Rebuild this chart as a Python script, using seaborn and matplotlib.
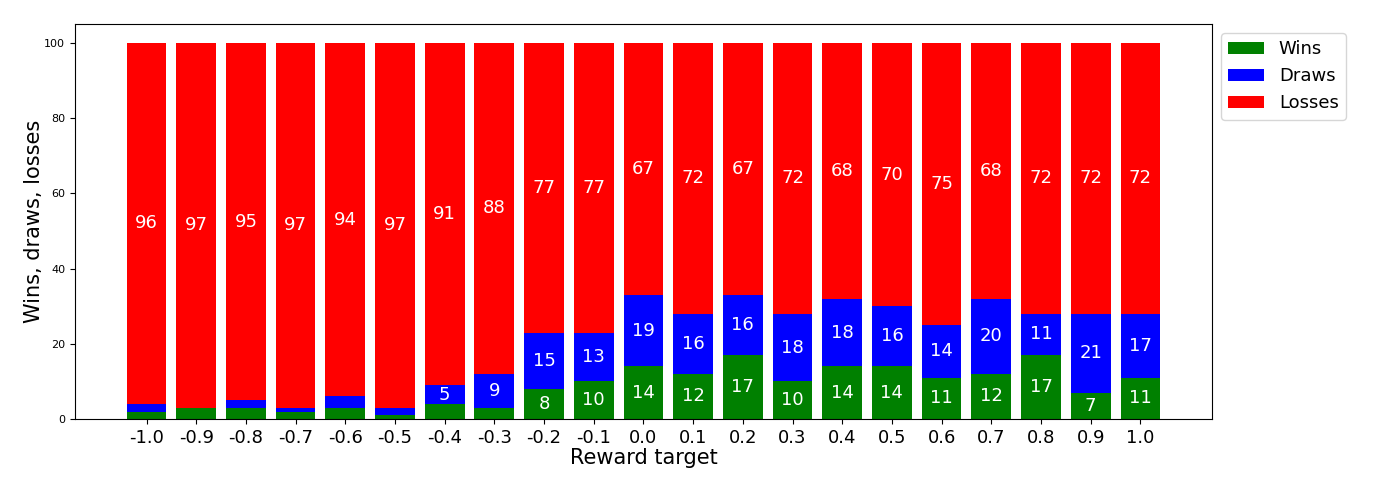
import matplotlib
matplotlib.use("Agg")
import matplotlib.pyplot as plt
import seaborn as sns
import numpy as np

# reward targets and outcome counts (per 100 games)
targets = ['-1.0', '-0.9', '-0.8', '-0.7', '-0.6', '-0.5', '-0.4', '-0.3', '-0.2', '-0.1', '0.0',
           '0.1', '0.2', '0.3', '0.4', '0.5', '0.6', '0.7', '0.8', '0.9', '1.0']
wins = [2, 3, 3, 2, 3, 1, 4, 3, 8, 10, 14, 12, 17, 10, 14, 14, 11, 12, 17, 7, 11]
draws = [2, 0, 2, 1, 3, 2, 5, 9, 15, 13, 19, 16, 16, 18, 18, 16, 14, 20, 11, 21, 17]
losses = [96, 97, 95, 97, 94, 97, 91, 88, 77, 77, 67, 72, 67, 72, 68, 70, 75, 68, 72, 72, 72]

wins = np.array(wins)
draws = np.array(draws)
losses = np.array(losses)

fig, ax = plt.subplots(figsize=(13.73, 4.93), dpi=100)
fig.subplots_adjust(left=0.0546, right=0.8827, top=0.951, bottom=0.15)

sns.barplot(x=targets, y=wins, color='green', saturation=1, width=0.8, ax=ax, label='Wins')
sns.barplot(x=targets, y=draws, bottom=wins, color='blue', saturation=1, width=0.8, ax=ax, label='Draws')
sns.barplot(x=targets, y=losses, bottom=wins + draws, color='red', saturation=1, width=0.8, ax=ax, label='Losses')

# value labels in the middle of each segment
for i in range(len(targets)):
    base = 0
    for v in (wins[i], draws[i], losses[i]):
        if v >= 5:
            ax.text(i, base + v / 2, str(v), ha='center', va='center', color='white', fontsize=13)
        base += v

# matplotlib-style 5% margins around the bars
n = len(targets)
span = (n - 1) + 0.8
ax.set_xlim(-0.4 - 0.05 * span, n - 1 + 0.4 + 0.05 * span)

ax.set_xlabel('Reward target', fontsize=15, labelpad=1)
ax.set_ylabel('Wins, draws, losses', fontsize=15, labelpad=0)
ax.tick_params(axis='x', labelsize=13)
ax.tick_params(axis='y', labelsize=8)
ax.set_yticks([0, 20, 40, 60, 80, 100])
ax.legend(loc='upper left', bbox_to_anchor=(1.0, 1.0), fontsize=13)

plt.savefig('out.png', dpi=100)
